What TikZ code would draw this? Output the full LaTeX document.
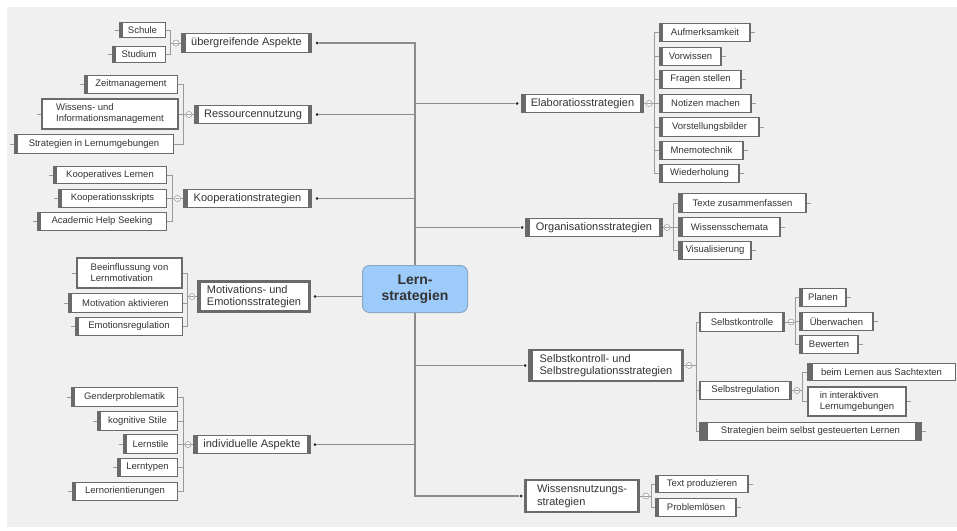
\documentclass[tikz,border=0pt]{standalone}
\usepackage{fontspec}
\setmainfont{Liberation Sans}
\definecolor{bgc}{HTML}{F0F0F0}
\definecolor{bdc}{HTML}{6A6A6A}
\definecolor{txc}{HTML}{333333}
\definecolor{conc}{HTML}{9A9A9A}
\definecolor{trc}{HTML}{8C8C8C}
\definecolor{ctrfill}{HTML}{9DCBFA}
\definecolor{ctrdraw}{HTML}{8BA7C4}
\newcommand\lfnt{\fontsize{9.5}{11}\selectfont}
\newcommand\mfnt{\fontsize{11}{12.5}\selectfont}
\newcommand\cfnt{\fontsize{14}{15.5}\selectfont\bfseries}
\tikzset{
 box/.style={draw=bdc, fill=white, text=txc, inner sep=0pt, align=center},
 leaf/.style={box, line width=1pt, font=\lfnt},
 mainbox/.style={box, line width=1.5pt, font=\mfnt},
 heavy/.style={line width=2.6pt},
 bars/.style 2 args={path picture={
   \fill[bdc] (path picture bounding box.north west) rectangle ([xshift=#1]path picture bounding box.south west);
   \fill[bdc] (path picture bounding box.north east) rectangle ([xshift=-#2]path picture bounding box.south east);}},
 sz/.style 2 args={minimum width=#1, minimum height=#2},
 circ/.style={circle, draw=conc, fill=white, line width=0.6pt, minimum size=6pt, inner sep=0pt,
   path picture={\draw[conc, line width=0.6pt] ([xshift=-1.6pt]path picture bounding box.center) -- ([xshift=1.6pt]path picture bounding box.center);}},
 dotn/.style={circle, fill=black!85, minimum size=3pt, inner sep=0pt},
 conn/.style={draw=conc, line width=0.8pt},
 trunk/.style={draw=trc, line width=1.2pt},
 ctrbox/.style={draw=ctrdraw, fill=ctrfill, rounded corners=7pt, line width=1pt, text=txc, font=\cfnt, align=center, inner sep=0pt},
}
\begin{document}
\begin{tikzpicture}[x=1pt,y=-1pt]
\useasboundingbox (0,0) rectangle (957,530);
\fill[bgc] (7,7) rectangle (957,527);

% center
\node[ctrbox, sz={105}{47}] (ctr) at (415,289) {Lern-\\strategien};

% ---------- left main nodes
\node[mainbox, bars={4pt}{4pt}, sz={130}{19}] (mU) at (246.5,43) {übergreifende Aspekte};
\node[mainbox, bars={4pt}{4pt}, sz={117}{18}] (mR) at (253,114.5) {Ressourcennutzung};
\node[mainbox, bars={4pt}{4pt}, sz={128}{18}] (mK) at (247.5,198.5) {Kooperationstrategien};
\node[mainbox, heavy, bars={2pt}{2pt}, sz={111}{30}, align=left] (mM) at (254,296.5) {Motivations- und\\Emotionsstrategien};
\node[mainbox, bars={4pt}{4pt}, sz={117}{18}] (mI) at (252,444.5) {individuelle Aspekte};

% ---------- right main nodes
\node[mainbox, bars={4pt}{4pt}, sz={122}{18}] (mE) at (582.5,103.5) {Elaboratiosstrategien};
\node[mainbox, bars={4pt}{4pt}, sz={137}{18}] (mO) at (594,227.5) {Organisationsstrategien};
\node[mainbox, heavy, bars={4pt}{2pt}, sz={154}{31}, align=left] (mS) at (606,365.5) {Selbstkontroll- und\\Selbstregulationsstrategien};
\node[mainbox, heavy, bars={2pt}{2pt}, sz={114}{32}, align=left] (mW) at (582,496) {Wissensnutzungs-\\strategien};

% ---------- left leaves
\node[leaf, bars={3pt}{1pt}, sz={46}{15}] (lSch) at (142.5,30) {Schule};
\node[leaf, bars={3pt}{1pt}, sz={53}{16}] (lStu) at (139,54.5) {Studium};
\node[leaf, bars={3pt}{1pt}, sz={93}{18}] (lZeit) at (131,84.5) {Zeitmanagement};
\node[leaf, heavy, bars={1pt}{1pt}, sz={136}{30}, align=left] (lWiss) at (110,114) {Wissens- und\\Informationsmanagement};
\node[leaf, bars={3pt}{1pt}, sz={159}{19}] (lStrat) at (94,144) {Strategien in Lernumgebungen};
\node[leaf, bars={3pt}{1pt}, sz={113}{17}] (lKoop) at (110,175) {Kooperatives Lernen};
\node[leaf, bars={3pt}{1pt}, sz={108}{18}] (lKskr) at (112.5,198.5) {Kooperationsskripts};
\node[leaf, bars={3pt}{1pt}, sz={129}{18}] (lAcad) at (102,221.5) {Academic Help Seeking};
\node[leaf, heavy, bars={1pt}{1pt}, sz={105}{30}, align=left] (lBeein) at (129.5,273) {Beeinflussung von\\Lernmotivation};
\node[leaf, bars={3pt}{1pt}, sz={114}{19}] (lMakt) at (125.5,303) {Motivation aktivieren};
\node[leaf, bars={3pt}{1pt}, sz={107}{18}] (lEmo) at (129,326.5) {Emotionsregulation};
\node[leaf, bars={3pt}{1pt}, sz={106}{19}] (lGen) at (124.5,397) {Genderproblematik};
\node[leaf, bars={3pt}{1pt}, sz={80}{19}] (lKog) at (137.5,421) {kognitive Stile};
\node[leaf, bars={3pt}{1pt}, sz={54}{19}] (lLst) at (150.5,444) {Lernstile};
\node[leaf, bars={3pt}{1pt}, sz={60}{18}] (lLty) at (147.5,467.5) {Lerntypen};
\node[leaf, bars={3pt}{1pt}, sz={105}{18}] (lLor) at (125,491.5) {Lernorientierungen};

% ---------- right leaves
\node[leaf, bars={3pt}{1.5pt}, sz={91}{18}] (rAuf) at (705,32.5) {Aufmerksamkeit};
\node[leaf, bars={3pt}{1.5pt}, sz={62}{18}] (rVor) at (690.5,56.5) {Vorwissen};
\node[leaf, bars={3pt}{1.5pt}, sz={82}{18}] (rFra) at (700.5,79.5) {Fragen stellen};
\node[leaf, bars={3pt}{1.5pt}, sz={92}{18}] (rNot) at (705.5,103.5) {Notizen machen};
\node[leaf, bars={3pt}{1.5pt}, sz={100}{19}] (rVst) at (709.5,127) {Vorstellungsbilder};
\node[leaf, bars={3pt}{1.5pt}, sz={84}{18}] (rMne) at (701.5,150.5) {Mnemotechnik};
\node[leaf, bars={3pt}{1.5pt}, sz={80}{18}] (rWie) at (699.5,173.5) {Wiederholung};
\node[leaf, bars={4pt}{1.5pt}, sz={128}{19}] (rTex) at (742.5,203) {Texte zusammenfassen};
\node[leaf, bars={4pt}{1.5pt}, sz={102}{19}] (rWsc) at (729.5,227) {Wissensschemata};
\node[leaf, bars={4pt}{1.5pt}, sz={73}{18}] (rVis) at (715,250.5) {Visualisierung};
\node[leaf, bars={1pt}{3pt}, sz={85}{19}] (sSK) at (742,322) {Selbstkontrolle};
\node[leaf, bars={1pt}{3pt}, sz={92}{18}] (sSR) at (745.5,390.5) {Selbstregulation};
\node[leaf, bars={8pt}{7pt}, sz={222}{18}] (sStr) at (810.5,431.5) {Strategien beim selbst gesteuerten Lernen};
\node[leaf, bars={3pt}{1.5pt}, sz={47}{18}] (rPla) at (823,297.5) {Planen};
\node[leaf, bars={3pt}{1.5pt}, sz={74}{18}] (rUeb) at (836.5,321.5) {Überwachen};
\node[leaf, bars={3pt}{1.5pt}, sz={59}{18}] (rBew) at (829,344.5) {Bewerten};
\node[leaf, bars={5pt}{1pt}, sz={148}{17}] (rSach) at (881.5,372) {beim Lernen aus Sachtexten};
\node[leaf, heavy, bars={1pt}{1pt}, sz={98}{29}, align=left] (rInt) at (857,401.5) {in interaktiven\\Lernumgebungen};
\node[leaf, bars={3pt}{1.5pt}, sz={93}{17}] (rTP) at (702,484) {Text produzieren};
\node[leaf, bars={3pt}{1.5pt}, sz={81}{18}] (rPL) at (696,507.5) {Problemlösen};

% ---------- dots
\foreach \n/\x/\y in {dU/317/43, dR/317/114.5, dK/317/198.5, dM/315/296.5, dI/315/444.5,
  dE/517/103.5, dO/522/227.5, dS/525/365.5, dW/521/496}
  \node[dotn] (\n) at (\x,\y) {};

% ---------- collapse circles and bracket points
\foreach \n/\x/\y in {cU/176/43, cR/189/114.5, cK/177.5/198.5, cM/192/296.5, cI/188/444.5,
  cE/649/103.5, cO/667/227.5, cS/689/365.5, cW/646/496, cSK/791/322, cSR/797/390.5}
  \node[circ] (\n) at (\x,\y) {};
\foreach \n/\x/\y in {bU/170/43, bR/183/114.5, bK/172/198.5, bM/187/296.5, bI/183.5/444.5,
  bE/654/103.5, bO/673/227.5, bS/696/365.5, bW/651/496, bSK/795/322, bSR/802.5/390.5}
  \coordinate (\n) at (\x,\y);

% ---------- trunk
\draw[trunk] (dU) -| (ctr.north);
\draw[trunk] (dR) -| (ctr.north);
\draw[trunk] (dK) -| (ctr.north);
\draw[trunk] (dM) -- (dM -| ctr.west);
\draw[trunk] (dI) -| (ctr.south);
\draw[trunk] (dE) -| (ctr.north);
\draw[trunk] (dO) -| (ctr.north);
\draw[trunk] (dS) -| (ctr.south);
\draw[trunk] (dW) -| (ctr.south);

% ---------- left groups
\foreach \n in {lSch,lStu} \draw[conn] (\n.east) -| (bU);
\foreach \n in {lZeit,lWiss,lStrat} \draw[conn] (\n.east) -| (bR);
\foreach \n in {lKoop,lKskr,lAcad} \draw[conn] (\n.east) -| (bK);
\foreach \n in {lBeein,lMakt,lEmo} \draw[conn] (\n.east) -| (bM);
\foreach \n in {lGen,lKog,lLst,lLty,lLor} \draw[conn] (\n.east) -| (bI);
\draw[conn] (bU) -- (cU) (cU) -- (mU);
\draw[conn] (bR) -- (cR) (cR) -- (mR);
\draw[conn] (bK) -- (cK) (cK) -- (mK);
\draw[conn] (bM) -- (cM) (cM) -- (mM);
\draw[conn] (bI) -- (cI) (cI) -- (mI);
\foreach \n in {lSch,lStu,lZeit,lWiss,lStrat,lKoop,lKskr,lAcad,lBeein,lMakt,lEmo,lGen,lKog,lLst,lLty,lLor}
  \draw[conn] (\n.west) -- ++(-4,0);

% ---------- right groups
\foreach \n in {rAuf,rVor,rFra,rNot,rVst,rMne,rWie} \draw[conn] (\n.west) -| (bE);
\foreach \n in {rTex,rWsc,rVis} \draw[conn] (\n.west) -| (bO);
\foreach \n in {sSK,sSR,sStr} \draw[conn] (\n.west) -| (bS);
\foreach \n in {rTP,rPL} \draw[conn] (\n.west) -| (bW);
\foreach \n in {rPla,rUeb,rBew} \draw[conn] (\n.west) -| (bSK);
\foreach \n in {rSach,rInt} \draw[conn] (\n.west) -| (bSR);
\draw[conn] (mE) -- (cE) (cE) -- (bE);
\draw[conn] (mO) -- (cO) (cO) -- (bO);
\draw[conn] (mS) -- (cS) (cS) -- (bS);
\draw[conn] (mW) -- (cW) (cW) -- (bW);
\draw[conn] (sSK) -- (cSK) (cSK) -- (bSK);
\draw[conn] (sSR) -- (cSR) (cSR) -- (bSR);
\foreach \n in {rAuf,rVor,rFra,rNot,rVst,rMne,rWie,rTex,rWsc,rVis,sStr,rPla,rUeb,rBew,rInt,rTP,rPL}
  \draw[conn] (\n.east) -- ++(4,0);
\end{tikzpicture}
\end{document}
